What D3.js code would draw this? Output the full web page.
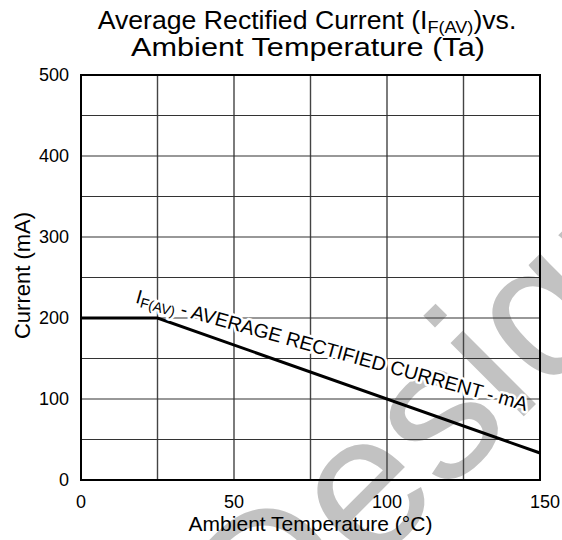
<!DOCTYPE html>
<html>
<head>
<meta charset="utf-8">
<script src="https://cdn.jsdelivr.net/npm/d3@7"></script>
<style>
  html, body { margin: 0; padding: 0; background: #fff; }
  svg { display: block; font-family: "Liberation Sans", Arial, sans-serif; }
</style>
</head>
<body>
<svg id="chart" width="562" height="540"></svg>
<script>
// ---- data ----
const tempC = [0, 25, 150];
const currentMA = [200, 200, 33.3];
const xTicks = [0, 50, 100, 150];
const yTicks = [0, 100, 200, 300, 400, 500];
const xGrid = [25, 50, 75, 100, 125];
const yGrid = [50, 100, 150, 200, 250, 300, 350, 400, 450];

const svg = d3.select("#chart");
const W = 562, H = 540;
const m = { left: 81, top: 75, right: 22, bottom: 60 };
const pw = W - m.left - m.right, ph = H - m.top - m.bottom;

const x = d3.scaleLinear().domain([0, 150]).range([m.left, m.left + pw]);
const y = d3.scaleLinear().domain([0, 500]).range([m.top + ph, m.top]);

// watermark (behind everything)
svg.append("text")
  .attr("transform", "translate(268,672) rotate(-45)")
  .attr("font-size", 196)
  .attr("fill", "#c2c2c2")
  .text("Design");

// grid
const g = svg.append("g");
g.selectAll("line.vx").data(xGrid).join("line")
  .attr("x1", d => x(d)).attr("x2", d => x(d))
  .attr("y1", y(0)).attr("y2", y(500))
  .attr("stroke", "#444").attr("stroke-width", 1.4);
g.selectAll("line.hy").data(yGrid).join("line")
  .attr("x1", x(0)).attr("x2", x(150))
  .attr("y1", d => y(d)).attr("y2", d => y(d))
  .attr("stroke", "#333").attr("stroke-width", 1.2);

// data line
const line = d3.line().x((d, i) => x(tempC[i])).y(d => y(d));
svg.append("path").datum(currentMA)
  .attr("d", line)
  .attr("fill", "none").attr("stroke", "#000").attr("stroke-width", 3);

// frame
svg.append("rect")
  .attr("x", x(0)).attr("y", y(500))
  .attr("width", x(150) - x(0)).attr("height", y(0) - y(500))
  .attr("fill", "none").attr("stroke", "#000").attr("stroke-width", 2);

// axes tick labels
svg.append("g").selectAll("text").data(yTicks).join("text")
  .attr("x", x(0) - 12).attr("y", d => y(d)).attr("dy", "0.36em")
  .attr("text-anchor", "end").attr("font-size", 18).attr("fill", "#000")
  .text(d => d);
svg.append("g").selectAll("text").data(xTicks).join("text")
  .attr("x", d => x(d) + (d === 150 ? 5 : 0)).attr("y", y(0) + 28)
  .attr("text-anchor", "middle").attr("font-size", 18).attr("fill", "#000")
  .text(d => d);

// axis titles
svg.append("text")
  .attr("x", (x(0) + x(150)) / 2).attr("y", 531)
  .attr("text-anchor", "middle").attr("font-size", 21)
  .text("Ambient Temperature (°C)");
svg.append("text")
  .attr("transform", `translate(30,${(y(0) + y(500)) / 2 - 2}) rotate(-90)`)
  .attr("text-anchor", "middle").attr("font-size", 22)
  .text("Current (mA)");

// title (stretched horizontally to the reference widths)
function stretch(sel, cx, cy, targetW) {
  const w = sel.node().getComputedTextLength();
  sel.attr("transform", `translate(${cx},${cy}) scale(${targetW / w},1)`);
}
const t1 = svg.append("text").attr("x", 0).attr("y", 0)
  .attr("text-anchor", "middle").attr("font-size", 25);
t1.append("tspan").text("Average Rectified Current (I");
t1.append("tspan").attr("font-size", 17).attr("dy", 4).text("F(AV)");
t1.append("tspan").attr("dy", -4).text(")vs.");
stretch(t1, 307, 29, 419);
const t2 = svg.append("text").attr("x", 0).attr("y", 0)
  .attr("text-anchor", "middle").attr("font-size", 25)
  .text("Ambient Temperature (Ta)");
stretch(t2, 308, 56, 354);

// curve label
const lbl = svg.append("text")
  .attr("transform", `translate(${x(17.6)},${y(219)}) rotate(15.5)`)
  .attr("font-size", 19.5)
  .attr("stroke", "#fff").attr("stroke-width", 5).attr("paint-order", "stroke")
  .attr("stroke-linejoin", "round").attr("fill", "#000");
lbl.append("tspan").text("I");
lbl.append("tspan").attr("font-size", 14).attr("dy", 3).text("F(AV)");
lbl.append("tspan").attr("dy", -3).text(" - AVERAGE RECTIFIED CURRENT - mA");
</script>
</body>
</html>
